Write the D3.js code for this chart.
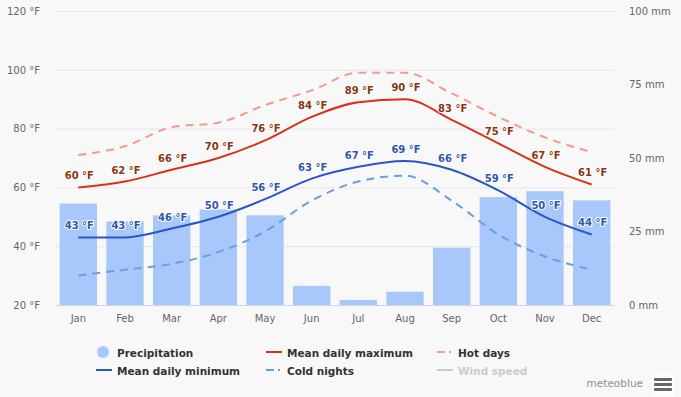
<!DOCTYPE html>
<html><head><meta charset="utf-8">
<script src="https://cdn.jsdelivr.net/npm/d3@7/dist/d3.min.js"></script>
<style>
html,body{margin:0;padding:0;background:#f8f8f8;}
svg{display:block;font-family:"DejaVu Sans",Verdana,sans-serif;}
</style></head>
<body>
<svg id="c" width="681" height="397"></svg>
<script>
const months = ["Jan","Feb","Mar","Apr","May","Jun","Jul","Aug","Sep","Oct","Nov","Dec"];
const precipitation = [34.5,28.4,30.5,32.5,30.5,6.5,1.7,4.5,19.5,36.7,38.7,35.6];
const meanMax = [60,62,66,70,76,84,89,90,83,75,67,61];
const meanMin = [43,43,46,50,56,63,67,69,66,59,50,44];
const hotDays = [71,74,80.5,82,88,93,99,99,92,84,77,72];
const coldNights = [30,32,34,38,45,55.5,62,64,55.5,44,36.5,32];
const tempTicks = [20,40,60,80,100,120];
const precipTicks = [0,25,50,75,100];

const svg = d3.select("#c");
const L = 55, R = 615, T = 11, B = 305;

const xBand = d3.scaleBand().domain(months).range([L,R]).padding(0);
const xBar = d3.scaleBand().domain(months).range([L,R]).paddingInner(0.2).paddingOuter(0.1);
const xc = m => xBand(m) + xBand.bandwidth()/2;
const yT = d3.scaleLinear().domain([20,120]).range([B,T]);
const yP = d3.scaleLinear().domain([0,100]).range([B,T]);

// grid
svg.append("g").selectAll("line").data(tempTicks).join("line")
  .attr("x1",L).attr("x2",R).attr("y1",d=>yT(d)+0.5).attr("y2",d=>yT(d)+0.5)
  .attr("stroke","#e6e6e6").attr("stroke-width",1);

// left axis
const axL = d3.axisLeft(yT).tickValues(tempTicks).tickSize(0).tickPadding(0).tickFormat(d=>d+" °F");
const gL = svg.append("g").attr("transform",`translate(40,0)`).call(axL);
gL.select(".domain").remove();
gL.selectAll("text").attr("fill","#666").attr("font-size","10px").attr("font-family","DejaVu Sans, sans-serif");

// right axis
const axR = d3.axisRight(yP).tickValues(precipTicks).tickSize(0).tickPadding(0).tickFormat(d=>d+" mm");
const gR = svg.append("g").attr("transform",`translate(629,0)`).call(axR);
gR.select(".domain").remove();
gR.selectAll("text").attr("fill","#666").attr("font-size","10px").attr("font-family","DejaVu Sans, sans-serif");

// bottom axis
const axB = d3.axisBottom(xBand).tickSize(0).tickPadding(0);
const gB = svg.append("g").attr("transform",`translate(0,${B+10})`).call(axB);
gB.select(".domain").remove();
gB.selectAll("text").attr("fill","#666").attr("font-size","10px").attr("font-family","DejaVu Sans, sans-serif");

// bars
svg.append("g").selectAll("rect").data(months).join("rect")
  .attr("x",m=>xBar(m)).attr("width",xBar.bandwidth())
  .attr("y",(m,i)=>yP(precipitation[i])).attr("height",(m,i)=>B-yP(precipitation[i]))
  .attr("fill","#a8c7fa");

// baseline
svg.append("line").attr("x1",L).attr("x2",R).attr("y1",B+0.5).attr("y2",B+0.5).attr("stroke","#ccd6eb");

const line = d3.line().x((d,i)=>xc(months[i])).y(d=>yT(d)).curve(d3.curveMonotoneX);

function drawLine(data,color,dash,w){
  svg.append("path").attr("d",line(data)).attr("fill","none").attr("stroke",color)
    .attr("stroke-width",w).attr("stroke-dasharray",dash||null).attr("stroke-linejoin","round");
}
drawLine(hotDays,"#f39a8e","8,6",2);
drawLine(coldNights,"#6b9fdc","8,6",2);
drawLine(meanMax,"#d6321a",null,2);
drawLine(meanMin,"#2a55c4",null,2);

function labels(data,color){
  svg.append("g").selectAll("text").data(data).join("text")
    .attr("x",(d,i)=>xc(months[i])+1).attr("y",d=>yT(d)-8)
    .attr("text-anchor","middle").attr("font-size","10px").attr("font-weight","bold")
    .attr("fill",color).attr("stroke","#fff").attr("stroke-width",2).attr("paint-order","stroke")
    .attr("stroke-linejoin","round")
    .text(d=>d+" °F");
}
labels(meanMax,"#8a3510");
labels(meanMin,"#2f55ac");

// legend
const lg = svg.append("g").attr("font-size","10.5px").attr("font-weight","bold").attr("fill","#333");
lg.append("circle").attr("cx",103).attr("cy",352).attr("r",6).attr("fill","#a8c7fa");
lg.append("text").attr("x",117).attr("y",357).text("Precipitation");
lg.append("line").attr("x1",96).attr("x2",112).attr("y1",370).attr("y2",370).attr("stroke","#2a55c4").attr("stroke-width",2);
lg.append("text").attr("x",117).attr("y",375).text("Mean daily minimum");
lg.append("line").attr("x1",266).attr("x2",282).attr("y1",352).attr("y2",352).attr("stroke","#d6321a").attr("stroke-width",2);
lg.append("text").attr("x",287).attr("y",357).text("Mean daily maximum");
lg.append("line").attr("x1",266).attr("x2",282).attr("y1",370).attr("y2",370).attr("stroke","#6b9fdc").attr("stroke-width",2).attr("stroke-dasharray","8,4,2,4");
lg.append("text").attr("x",287).attr("y",375).text("Cold nights");
lg.append("line").attr("x1",437).attr("x2",453).attr("y1",352).attr("y2",352).attr("stroke","#f39a8e").attr("stroke-width",2).attr("stroke-dasharray","8,4,2,4");
lg.append("text").attr("x",458).attr("y",357).text("Hot days");
lg.append("line").attr("x1",437).attr("x2",453).attr("y1",370).attr("y2",370).attr("stroke","#cccccc").attr("stroke-width",2);
lg.append("text").attr("x",458).attr("y",375).attr("fill","#cccccc").text("Wind speed");

// credit
svg.append("text").attr("x",643).attr("y",387).attr("text-anchor","end").attr("font-size","10.5px").attr("fill","#909090").text("meteoblue");
svg.append("rect").attr("x",652).attr("y",374).attr("width",22).attr("height",22).attr("fill","#ffffff").attr("opacity",0.6);
[0,1,2].forEach(i=>{
  svg.append("rect").attr("x",654).attr("y",378+i*5).attr("width",18).attr("height",3).attr("rx",1).attr("fill","#666");
});
</script>
</body></html>
